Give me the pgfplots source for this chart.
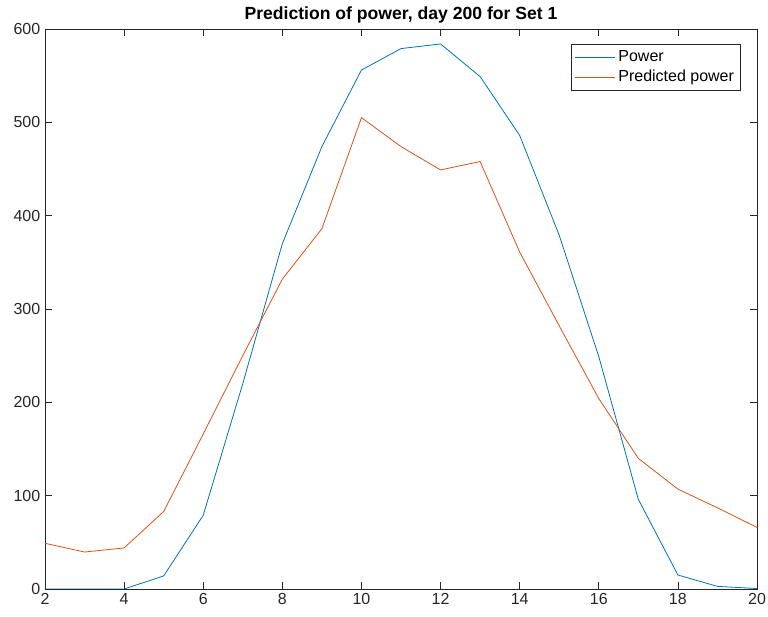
\documentclass[border=0pt]{standalone}
\usepackage{pgfplots}
\pgfplotsset{compat=1.18}
\usepackage{fontspec}
\setmainfont{Liberation Sans}
\definecolor{mblue}{rgb}{0,0.447,0.741}
\definecolor{morange}{rgb}{0.85,0.325,0.098}
\definecolor{axgray}{rgb}{0.15,0.15,0.15}
\begin{document}
\begin{tikzpicture}
\begin{axis}[
  name=ax,
  scale only axis,
  width=534pt, height=420pt,
  xmin=2, xmax=20, ymin=0, ymax=600,
  xtick={2,4,...,20}, ytick={0,100,...,600},
  tick align=inside,
  major tick length=5pt,
  axis line style={axgray, line width=0.5pt},
  every tick/.style={axgray, line width=0.5pt},
  tick label style={font=\fontsize{12}{14}\selectfont, text=axgray},
  /pgf/number format/assume math mode=true,
  title={\bfseries Prediction of power, day 200 for Set 1},
  title style={font=\fontsize{13.2}{15}\selectfont, yshift=-5pt},
  legend style={at={(1,1)}, anchor=north east, xshift=-12pt, yshift=-11pt,
    draw=axgray, line width=0.5pt, font=\fontsize{12}{14}\selectfont,
    inner xsep=3pt, inner ysep=3pt, row sep=1pt},
  legend cell align=left,
  legend image code/.code={\draw[#1] (0cm,0cm) -- (1.05cm,0cm);},
]
\addplot[mblue, line width=0.6pt] coordinates {
(2,0) (3,0) (4,0) (5,14) (6,79) (7,220) (8,370) (9,474) (10,556) (11,579)
(12,584) (13,549) (14,486) (15,379) (16,249) (17,96) (18,15) (19,2.8) (20,0.5)};
\addlegendentry{Power}
\addplot[morange, line width=0.6pt] coordinates {
(2,49) (3,39.6) (4,44) (5,83) (6,166) (7,250) (8,332) (9,386) (10,505) (11,474)
(12,449) (13,458) (14,361) (15,282) (16,204) (17,140) (18,107) (19,87) (20,66)};
\addlegendentry{Predicted power}
\end{axis}
\pgfresetboundingbox
\path ([xshift=-33.75pt,yshift=-20.8pt]ax.south west) rectangle ([xshift=8.25pt,yshift=21.75pt]ax.north east);
\end{tikzpicture}
\end{document}
